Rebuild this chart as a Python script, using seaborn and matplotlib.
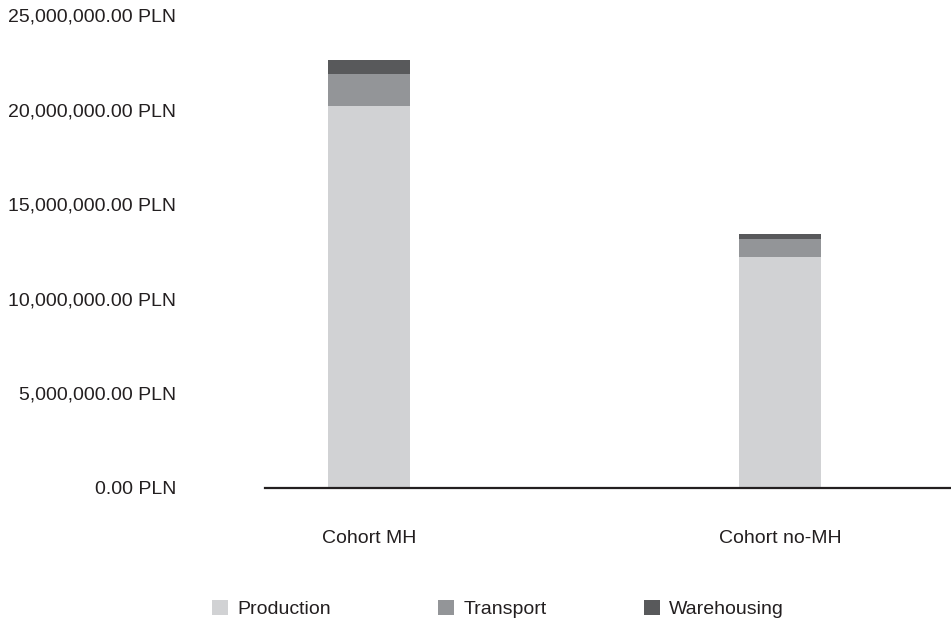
import matplotlib
matplotlib.use("Agg")
import matplotlib.pyplot as plt
from matplotlib.patches import Patch
from matplotlib.ticker import FuncFormatter
import seaborn as sns
import pandas as pd

# Cost components per cohort (PLN)
cohorts = ["Cohort MH", "Cohort no-MH"]
production = [20_180_000, 12_200_000]
transport = [1_680_000, 980_000]
warehousing = [740_000, 230_000]
components = ["Production", "Transport", "Warehousing"]
colors = ["#d1d2d4", "#939598", "#58595b"]
yticks = [0, 5_000_000, 10_000_000, 15_000_000, 20_000_000, 25_000_000]

sns.set_theme(style="white")
plt.rcParams["font.family"] = ["Liberation Sans", "DejaVu Sans"]
text_color = "#231f20"

df = pd.DataFrame({
    "cohort": cohorts,
    "Production": production,
    "Transport": transport,
    "Warehousing": warehousing,
})
# Cumulative heights for stacking: draw tallest first, then overlay lower segments
df["cum_Warehousing"] = df["Production"] + df["Transport"] + df["Warehousing"]
df["cum_Transport"] = df["Production"] + df["Transport"]
df["cum_Production"] = df["Production"]

fig = plt.figure(figsize=(9.51, 6.22), dpi=100)
ax = fig.add_axes([265 / 951, 1 - 488 / 622, 1 - 265 / 951, (488 - 15) / 622])

for comp, col in zip(reversed(components), reversed(colors)):
    sns.barplot(data=df, x="cohort", y=f"cum_{comp}", color=col, width=0.2,
                saturation=1, linewidth=0, ax=ax)

ax.set_xlim(-0.254, 1.416)
ax.set_ylim(0, 25_000_000)
ax.set_yticks(yticks)
ax.yaxis.set_major_formatter(FuncFormatter(lambda v, p: f"{v:,.2f} PLN"))
ax.set_xlabel("")
ax.set_ylabel("")
ax.tick_params(axis="y", length=0, pad=64, labelsize=14, labelcolor=text_color)
ax.tick_params(axis="x", length=0, pad=30, labelsize=14, labelcolor=text_color)

for side in ["top", "right", "left"]:
    ax.spines[side].set_visible(False)
ax.spines["bottom"].set_color(text_color)
ax.spines["bottom"].set_linewidth(1.6)
ax.grid(False)

# One legend entry per component, spaced along the bottom
legend_x = [212, 438, 644]
for lab, col, x in zip(components, colors, legend_x):
    fig.legend(handles=[Patch(facecolor=col, edgecolor="none", label=lab)],
               loc="center left", bbox_to_anchor=(x / 951, 1 - 609 / 622),
               frameon=False, fontsize=14, labelcolor=text_color,
               handlelength=0.8, handleheight=0.8, handletextpad=0.5,
               borderaxespad=0, borderpad=0)

fig.savefig("out.png", dpi=100)
